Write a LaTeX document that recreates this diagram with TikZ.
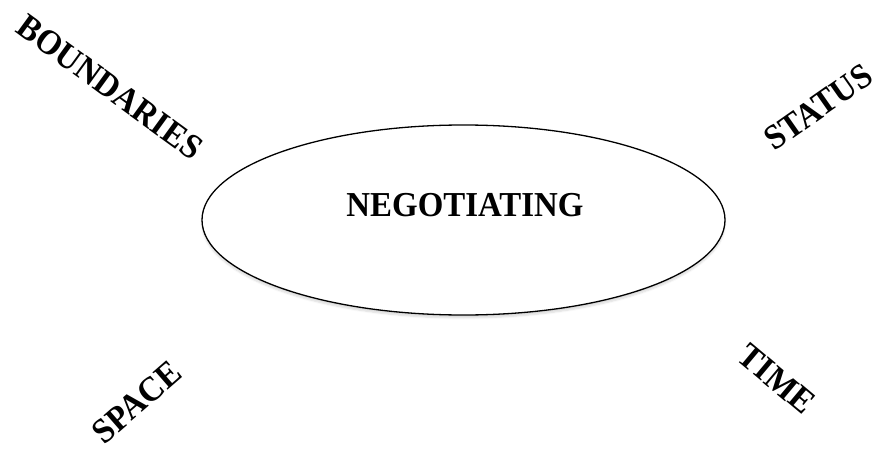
\documentclass[tikz,border=0pt]{standalone}
\usepackage{fontspec}
\setmainfont{Liberation Serif}[BoldFont={Liberation Serif Bold}]
\usetikzlibrary{shapes.geometric,shadows.blur}
\newcommand{\lbl}[1]{\scalebox{0.94}[1]{\textbf{#1}}}
\tikzset{
  word/.style={inner sep=0pt, text height=23.2pt, text depth=0pt, font=\fontsize{35}{40}\selectfont\bfseries}
}
\begin{document}
\begin{tikzpicture}[x=1pt, y=1pt, line join=round, line cap=round]
				\useasboundingbox (0,0) rectangle (879,451);
				\node[draw, line width=1.3pt, fill=white, ellipse, minimum width=523pt, minimum height=190pt, inner sep=0pt,
				  blur shadow={shadow xshift=0pt, shadow yshift=-3pt, shadow opacity=15, shadow blur steps=6}]
				  (nego) at (463.5,231) {};
				\node[word] (negotext) at (465,246.5) {\lbl{NEGOTIATING}};
				\node[word, rotate=-36] (boundaries) at (110,364) {\lbl{BOUNDARIES}};
				\node[word, rotate=35] (status) at (818,344) {\lbl{STATUS}};
				\node[word, rotate=41] (space) at (137,49) {\lbl{SPACE}};
				\node[word, rotate=-40] (time) at (777,72) {\lbl{TIME}};
			\end{tikzpicture}
\end{document}
